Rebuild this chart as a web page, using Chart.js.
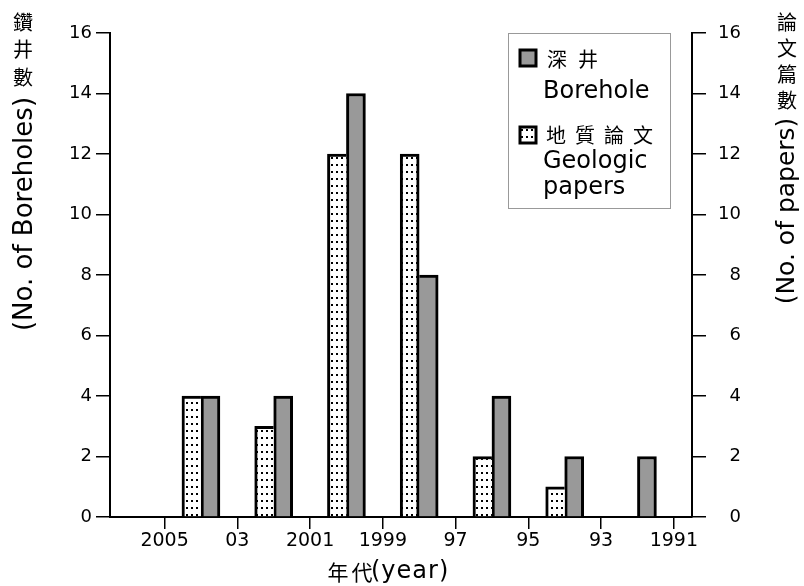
<!DOCTYPE html>
<html>
<head>
<meta charset="utf-8">
<script src="https://cdn.jsdelivr.net/npm/chart.js@4.4.1/dist/chart.umd.min.js"></script>
<style>
  html, body { margin: 0; padding: 0; background: #fff; }
</style>
</head>
<body>
<canvas id="bar-chart" width="804" height="586"></canvas>
<script>
// bins are two years wide, centred on the even years
const years = [2004, 2002, 2000, 1998, 1996, 1994, 1992];
const boreholeCounts = [4, 4, 14, 8, 4, 2, 2];
const paperCounts = [4, 3, 12, 12, 2, 1, 0];

const xTickValues = [2005, 2003, 2001, 1999, 1997, 1995, 1993, 1991];
const xTickLabels = ['2005', '03', '2001', '1999', '97', '95', '93', '1991'];

const leftTitleCjk = '鑽井數';
const leftTitle = '(No. of Boreholes)';
const rightTitleCjk = '論文篇數';
const rightTitle = '(No. of papers)';
const xTitleCjk = '年代';
const xTitle = '(year)';
const boreholeLabel = ['深井', 'Borehole'];
const paperLabel = ['地質論文', 'Geologic', 'papers'];

const latin = '"DejaVu Sans", sans-serif';
const cjk = '"Noto Sans CJK TC", sans-serif';
const grayFill = '#999999';
const bw = 3;

function makeDots() {
    const tile = document.createElement('canvas');
    tile.width = 5;
    tile.height = 7;
    const t = tile.getContext('2d');
    t.fillStyle = '#fff';
    t.fillRect(0, 0, 5, 7);
    t.fillStyle = '#000';
    t.fillRect(1, 3, 2, 2);
    return t.createPattern(tile, 'repeat');
}

const ctx = document.getElementById('bar-chart').getContext('2d');
const dots = makeDots();

function drawRotated(c, text, x, y) {
    c.save();
    c.translate(x, y);
    c.rotate(-Math.PI / 2);
    c.fillText(text, 0, 0);
    c.restore();
}

// stacked cjk titles, rotated titles, x title and the boxed legend
const extrasPlugin = {
    id: 'extras',
    afterDraw(chart) {
        const c = chart.ctx;
        c.save();
        c.fillStyle = '#000';
        c.textAlign = 'center';
        c.textBaseline = 'middle';

        c.font = '20px ' + cjk;
        leftTitleCjk.split('').forEach((ch, i) => c.fillText(ch, 23, 22 + i * 27.5));
        rightTitleCjk.split('').forEach((ch, i) => c.fillText(ch, 787, 22 + i * 26));

        c.font = '26px ' + latin;
        drawRotated(c, leftTitle, 25, 214);
        c.font = '25px ' + latin;
        drawRotated(c, rightTitle, 787, 211);

        // x title
        c.font = '21px ' + cjk;
        xTitleCjk.split('').forEach((ch, i) => c.fillText(ch, 338 + i * 24, 572));
        c.font = '24px ' + latin;
        c.textAlign = 'left';
        c.letterSpacing = '1px';
        c.fillText(xTitle, 371, 572);
        c.letterSpacing = '0px';

        // legend box
        c.strokeStyle = '#999';
        c.lineWidth = 1;
        c.strokeRect(508.5, 33.5, 162, 175);

        c.lineWidth = 3;
        c.strokeStyle = '#000';
        c.fillStyle = grayFill;
        c.fillRect(520, 50, 16, 16);
        c.strokeRect(520, 50, 16, 16);
        c.fillStyle = dots;
        c.fillRect(520, 127, 16, 16);
        c.strokeRect(520, 127, 16, 16);

        c.fillStyle = '#000';
        c.textAlign = 'center';
        c.font = '20px ' + cjk;
        boreholeLabel[0].split('').forEach((ch, i) => c.fillText(ch, 557 + i * 31, 59));
        paperLabel[0].split('').forEach((ch, i) => c.fillText(ch, 556 + i * 29, 135));

        c.textAlign = 'left';
        c.textBaseline = 'alphabetic';
        c.font = '24px ' + latin;
        c.fillText(boreholeLabel[1], 543, 98);
        c.fillText(paperLabel[1], 543, 168);
        c.fillText(paperLabel[2], 543, 194);
        c.restore();
    }
};

const axisStyle = {
    border: { display: true, color: '#000', width: 2 },
    grid: { drawOnChartArea: false, drawTicks: true, tickLength: 14, color: '#000', lineWidth: 1.5 }
};

new Chart(ctx, {
    type: 'bar',
    data: {
        datasets: [{
            label: 'Geologic papers',
            data: years.map((y, i) => ({ x: y, y: paperCounts[i] })),
            yAxisID: 'y1',
            backgroundColor: dots,
            borderColor: '#000',
            // share the middle edge with the gray bar where that one is taller
            borderWidth: (c) => ({
                top: bw, left: bw, bottom: 0,
                right: boreholeCounts[c.dataIndex] >= paperCounts[c.dataIndex] ? 0 : bw
            }),
            barThickness: 19
        }, {
            label: 'Borehole',
            data: years.map((y, i) => ({ x: y, y: boreholeCounts[i] })),
            yAxisID: 'y',
            backgroundColor: grayFill,
            borderColor: '#000',
            borderWidth: (c) => ({
                top: bw, right: bw, bottom: 0,
                left: paperCounts[c.dataIndex] > boreholeCounts[c.dataIndex] ? 0 : bw
            }),
            barThickness: 19
        }]
    },
    options: {
        responsive: false,
        animation: false,
        layout: { padding: { left: 40, right: 63, top: 33, bottom: 0 } },
        plugins: {
            legend: { display: false },
            tooltip: { enabled: false }
        },
        scales: {
            x: {
                type: 'linear',
                reverse: true,
                min: 1990.5,
                max: 2006.5,
                offset: false,
                border: { display: true, color: '#000', width: 2 },
                grid: { drawOnChartArea: false, drawTicks: true, tickLength: 12, color: '#000', lineWidth: 1.5, offset: false },
                afterBuildTicks: (scale) => {
                    scale.ticks = xTickValues.map(v => ({ value: v }));
                },
                afterFit: (scale) => { scale.height = 69; },
                ticks: {
                    autoSkip: false,
                    maxRotation: 0,
                    padding: 1,
                    color: '#000',
                    font: { family: 'DejaVu Sans', size: 19 },
                    callback: (value) => xTickLabels[xTickValues.indexOf(value)]
                }
            },
            y: {
                position: 'left',
                min: 0,
                max: 16,
                ...axisStyle,
                afterFit: (scale) => { scale.width = 70; },
                ticks: {
                    stepSize: 2,
                    padding: 4,
                    color: '#000',
                    font: { family: 'DejaVu Sans', size: 18 }
                }
            },
            y1: {
                position: 'right',
                min: 0,
                max: 16,
                ...axisStyle,
                afterFit: (scale) => { scale.width = 49; },
                ticks: {
                    stepSize: 2,
                    padding: 12,
                    crossAlign: 'far',
                    color: '#000',
                    font: { family: 'DejaVu Sans', size: 18 }
                }
            }
        }
    },
    plugins: [extrasPlugin]
});
</script>
</body>
</html>
